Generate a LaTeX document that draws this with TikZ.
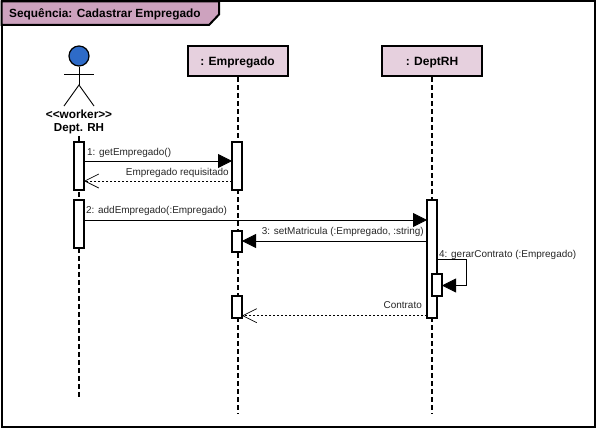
\documentclass[tikz,border=0pt]{standalone}
\usepackage{fontspec}
\setmainfont{Liberation Sans}
\usetikzlibrary{arrows.meta,calc}
\definecolor{hdr}{HTML}{CDA2BE}
\definecolor{lifehead}{HTML}{E6D0DE}
\definecolor{actorblue}{HTML}{2E6BC8}
\tikzset{
 x=1pt,y=-1pt,
 frameline/.style={draw=black,line width=2pt},
 head/.style={draw=black,line width=2pt,fill=lifehead,minimum width=100pt,minimum height=30pt,inner sep=0pt,text height=8pt,text depth=0pt,font=\fontsize{12}{14}\selectfont\bfseries},
 life/.style={draw=black,line width=1.6pt,dash pattern=on 5pt off 3pt},
 actbox/.style={draw=black,line width=2pt,fill=white,inner sep=0pt,outer sep=0pt,minimum width=10pt},
 sync/.style={draw=black,line width=0.8pt,-{Triangle[length=14pt,width=14pt]}},
 reply/.style={draw=black,line width=0.8pt,dash pattern=on 2.5pt off 1.5pt,-{Straight Barb[length=14pt,width=14pt,line width=0.7pt]}},
 msg/.style={font=\fontsize{9.95}{11}\selectfont,inner sep=0pt,text=black!85},
 stick/.style={draw=black,line width=0.9pt},
}
\begin{document}
\begin{tikzpicture}
\useasboundingbox (0,0) rectangle (596,428);
% frame
\draw[frameline,fill=white] (1.5,1.5) rectangle (594.5,427);
\draw[frameline,fill=hdr] (1.5,1.5) -- (219,1.5) -- (219,14.5) -- (209,25) -- (1.5,25) -- cycle;
\node[anchor=west,inner sep=0pt,font=\fontsize{11.85}{13}\selectfont\bfseries] (title) at (9,14) {Sequência: Cadastrar Empregado};
% heads
\node[head] (emp) at (237.5,61) {: Empregado};
\node[head] (dept) at (432,61) {: DeptRH};
% actor
\node[circle,draw=black,line width=1.2pt,fill=actorblue,minimum size=20pt,inner sep=0pt] (ahead) at (79,56) {};
\coordinate (ahip) at (79,85);
\coordinate (aarmL) at (64,74.5);
\coordinate (aarmR) at (94,74.5);
\coordinate (alegL) at (64,106);
\coordinate (alegR) at (94,106);
\draw[stick] (ahead.south) -- (ahip);
\draw[stick] (aarmL) -- (aarmR);
\draw[stick] (alegL) -- (ahip) -- (alegR);
\node[inner sep=0pt,font=\fontsize{11.8}{13}\selectfont\bfseries] (astereo) at (79,114) {<{}<worker>{}>};
\node[inner sep=0pt,font=\fontsize{11.6}{13}\selectfont\bfseries] (aname) at (79,128.5) {Dept. RH};
% lifelines
\coordinate (aend) at (79,398);
\coordinate (eend) at (238,414);
\coordinate (dend) at (432,414);
\draw[life] (aname.south) ++(0,2) -- (aend);
\draw[life] (emp.south -| eend) -- (eend);
\draw[life] (dept.south) -- (dend);
% activations
\node[actbox,minimum height=48pt] (a1) at (79,166) {};
\node[actbox,minimum height=48pt] (a2) at (79,224) {};
\node[actbox,minimum height=48pt] (e1) at (237,166) {};
\node[actbox,minimum height=21pt] (e2) at (237,241.5) {};
\node[actbox,minimum height=22pt] (e3) at (237,307) {};
\node[actbox,minimum height=118pt] (d1) at (432,259) {};
\node[actbox,minimum height=22pt] (d2) at (437,285) {};
% messages
\draw[sync] (a1.east |- 0,161) -- (e1.west |- 0,161);
\node[msg,anchor=west] (m1) at (87,152.7) {1: getEmpregado()};
\draw[reply] (e1.west |- 0,181) -- (a1.east |- 0,181);
\node[msg,anchor=east] (m1r) at (229,172.7) {Empregado requisitado};
\draw[sync] (a2.east |- 0,220) -- (d1.west |- 0,220);
\node[msg,anchor=west] (m2) at (86,210.7) {2: addEmpregado(:Empregado)};
\draw[sync] (d1.west |- 0,241) -- (e2.east |- 0,241);
\node[msg,anchor=east] (m3) at (424,231.7) {3: setMatricula (:Empregado, :string)};
\coordinate (selfa) at (466,259.5);
\coordinate (selfb) at (466,285.5);
\draw[sync] (d1.east |- selfa) -- (selfa) -- (selfb) -- (d2.east |- selfb);
\node[msg,anchor=west] (m4) at (439,254.7) {4: gerarContrato (:Empregado)};
\draw[reply] (d1.west |- 0,315.7) -- (e3.east |- 0,315.7);
\node[msg,anchor=east] (m5) at (422,305.5) {Contrato};
\end{tikzpicture}
\end{document}
